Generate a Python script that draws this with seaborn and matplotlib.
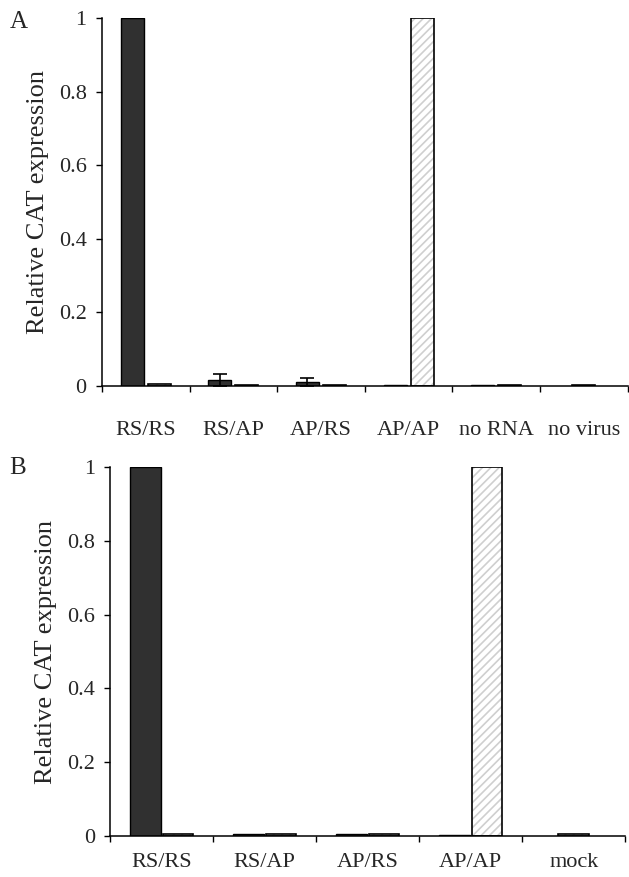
import numpy as np
import pandas as pd
import seaborn as sns
import matplotlib.pyplot as plt
from matplotlib.patches import Rectangle

# Panel A data
cats_a = ["RS/RS", "RS/AP", "AP/RS", "AP/AP", "no RNA", "no virus"]
rs_a = [1.0, 0.016, 0.011, 0.004, 0.004, np.nan]
ap_a = [0.005, 0.004, 0.004, 1.0, 0.004, 0.004]
rs_err_a = [0.0, 0.016, 0.010, 0.0, 0.0, 0.0]

# Panel B data
cats_b = ["RS/RS", "RS/AP", "AP/RS", "AP/AP", "mock"]
rs_b = [1.0, 0.005, 0.005, 0.004, np.nan]
ap_b = [0.005, 0.005, 0.005, 1.0, 0.005]
rs_err_b = [0.0, 0.0, 0.0, 0.0, 0.0]

series = ["RS", "AP"]
yticks = [0, 0.2, 0.4, 0.6, 0.8, 1.0]
ytick_labels = ["0", "0.2", "0.4", "0.6", "0.8", "1"]

sns.set_theme(style="white")
plt.rcParams["font.family"] = ["Liberation Serif", "DejaVu Serif"]
plt.rcParams["hatch.linewidth"] = 1.2


def panel(ax, cats, rs, ap, rs_err, width, gap, xpad):
    df = pd.DataFrame({
        "cat": cats * 2,
        "series": ["RS"] * len(cats) + ["AP"] * len(cats),
        "val": list(rs) + list(ap),
    })
    sns.barplot(data=df, x="cat", y="val", hue="series", order=cats,
                hue_order=series, palette={"RS": "#303030", "AP": "white"},
                width=width, gap=gap, errorbar=None, edgecolor="black",
                linewidth=1.0, legend=False, ax=ax)

    for cont, s in zip(ax.containers, series):
        other = ap if s == "RS" else rs
        for p in cont.patches:
            xc = p.get_x() + p.get_width() / 2
            i = int(round(xc))
            # lone bar in a group sits on the category centre
            if np.isnan(other[i]):
                p.set_x(i - p.get_width() / 2)
            if s == "AP":
                p.set_hatch("////")
                p.set_edgecolor("#cfcfcf")
                p.set_linewidth(0)
                ax.add_patch(Rectangle(p.get_xy(), p.get_width(), p.get_height(),
                                       fill=False, edgecolor="black", lw=1.2,
                                       zorder=p.get_zorder() + 0.1))
            if s == "RS" and rs_err[i] > 0:
                ax.errorbar(p.get_x() + p.get_width() / 2, p.get_height(),
                            yerr=rs_err[i], fmt="none", ecolor="black",
                            elinewidth=1.2, capsize=5, capthick=1.2, zorder=5)

    n = len(cats)
    ax.set_xlim(-0.5, n - 0.5)
    ax.set_ylim(0, 1.0)
    ax.set_xticks(np.arange(n + 1) - 0.5)
    ax.set_xticklabels([])
    ax.set_xticks(np.arange(n), minor=True)
    ax.set_xticklabels(cats, minor=True, fontsize=16)
    ax.tick_params(axis="x", which="major", direction="out", length=4,
                   width=1.0, color="black", bottom=True)
    ax.tick_params(axis="x", which="minor", length=0, pad=xpad, bottom=True)
    ax.set_yticks(yticks)
    ax.set_yticklabels(ytick_labels, fontsize=16)
    ax.tick_params(axis="y", direction="out", length=4, width=1.0,
                   color="black", left=True, pad=7)
    ax.set_xlabel("")
    ax.set_ylabel("Relative CAT expression", fontsize=19, labelpad=7)
    sns.despine(ax=ax)
    for sp in ["left", "bottom"]:
        ax.spines[sp].set_color("black")
        ax.spines[sp].set_linewidth(1.1)
    ax.spines["left"].set_zorder(10)


fig = plt.figure(figsize=(6.29, 8.77), dpi=100)
ax_a = fig.add_axes([0.162, 1 - 386 / 877, 0.998 - 0.162, (386 - 18) / 877])
ax_b = fig.add_axes([0.175, 1 - 836 / 877, 0.994 - 0.175, (836 - 467) / 877])

panel(ax_a, cats_a, rs_a, ap_a, rs_err_a, width=0.62, gap=0.15, xpad=25)
panel(ax_b, cats_b, rs_b, ap_b, rs_err_b, width=0.63, gap=0.06, xpad=12)

fig.text(0.015, 1 - 22 / 877, "A", fontsize=18, va="center")
fig.text(0.015, 1 - 468 / 877, "B", fontsize=18, va="center")

fig.savefig("out.png", dpi=100, facecolor="white")
